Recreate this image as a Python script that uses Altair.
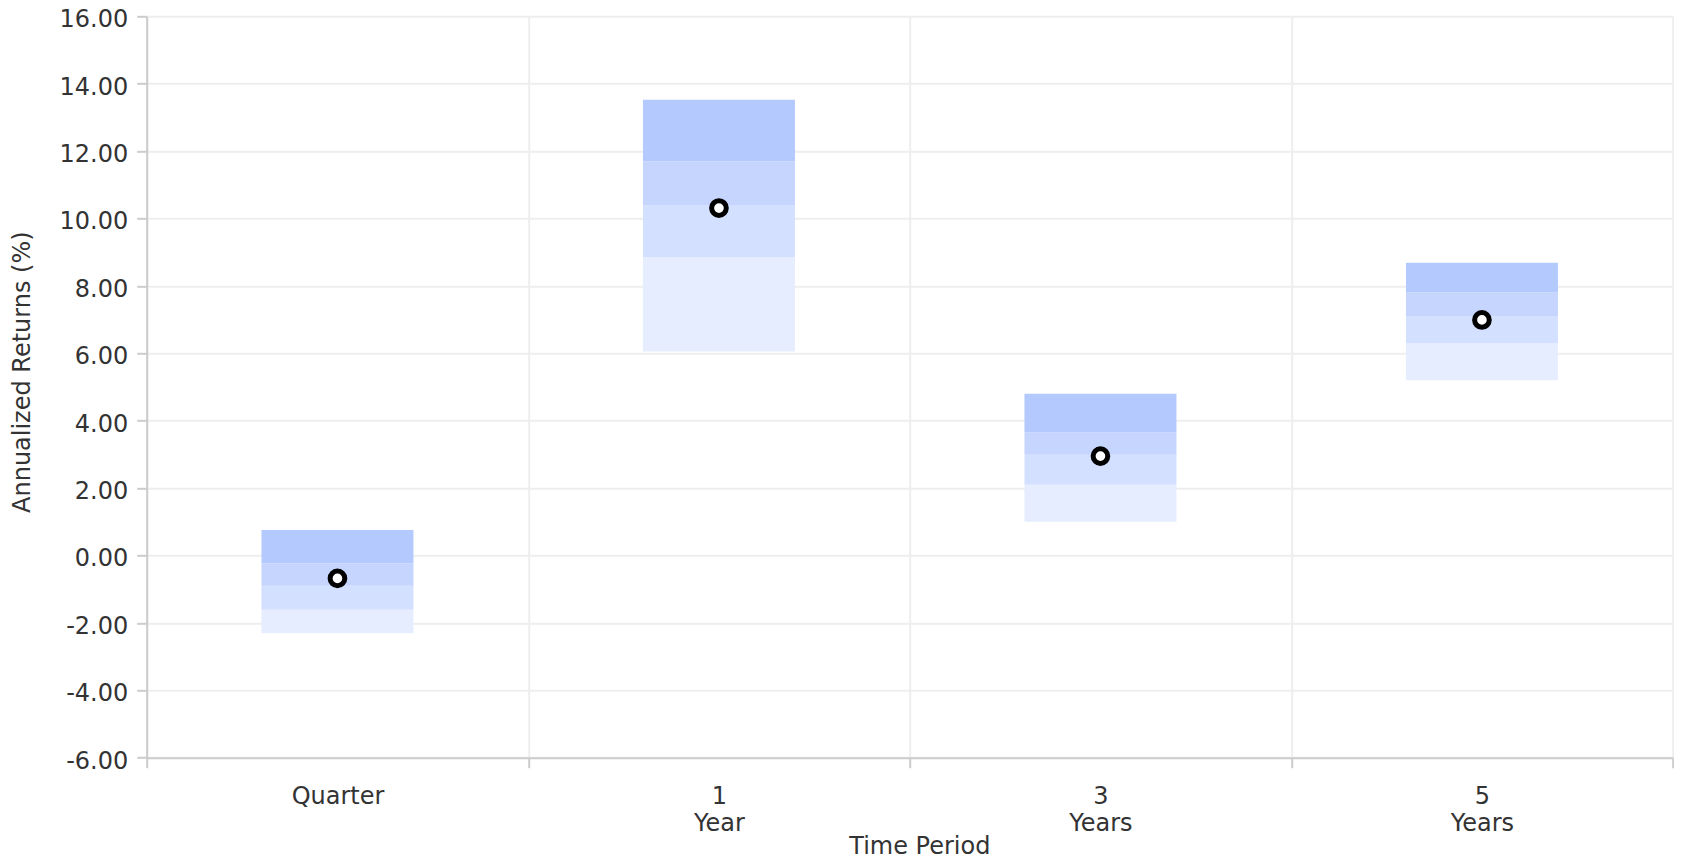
import altair as alt
import pandas as pd

# ---- data ----
periods = ["Quarter", "1\nYear", "3\nYears", "5\nYears"]
p95 = [0.76, 13.52, 4.80, 8.69]
p75 = [-0.24, 11.69, 3.66, 7.81]
p50 = [-0.90, 10.40, 2.99, 7.09]
p25 = [-1.61, 8.85, 2.10, 6.30]
p05 = [-2.31, 6.05, 1.00, 5.20]
fund = [-0.68, 10.31, 2.95, 6.99]

band_names = ["5th-25th", "25th-50th", "50th-75th", "75th-95th"]
band_colors = ["#e5edff", "#d4e0ff", "#c5d5fe", "#b4c9fe"]
y_ticks = [-6, -4, -2, 0, 2, 4, 6, 8, 10, 12, 14, 16]

rows = []
for i, p in enumerate(periods):
    edges = [p05[i], p25[i], p50[i], p75[i], p95[i]]
    for j in range(4):
        rows.append({"period": p, "band": band_names[j],
                     "low": edges[j], "high": edges[j + 1]})
bands = pd.DataFrame(rows)
points = pd.DataFrame({"period": periods, "value": fund})

FONT = "DejaVu Sans"
TXT = "#333333"
FS = 24

x_axis = alt.Axis(
    title="Time Period", labelAngle=0, tickBand="extent",
    labelExpr="split(datum.label, '\\n')",
    labelFont=FONT, labelFontSize=FS, labelColor=TXT, labelLineHeight=26.5,
    labelPadding=17, labelBaseline="top",
    tickSize=10, tickColor="#cccccc", tickWidth=2,
    domainColor="#cccccc", domainWidth=2,
    grid=True, gridColor="#eeeeee", gridWidth=2,
    titleFont=FONT, titleFontSize=FS, titleFontWeight="normal", titleColor=TXT,
    titleX=772.6, titleY=96, titleBaseline="alphabetic", titleAlign="center",
)
y_axis = alt.Axis(
    title="Annualized Returns (%)", values=y_ticks, format=".2f",
    labelExpr="replace(datum.label, '\u2212', '-')",
    labelFont=FONT, labelFontSize=FS, labelColor=TXT, labelPadding=9,
    labelOffset=3.4,
    tickSize=10, tickColor="#cccccc", tickWidth=2,
    domainColor="#cccccc", domainWidth=2,
    grid=True, gridColor="#eeeeee", gridWidth=2,
    titleFont=FONT, titleFontSize=FS, titleFontWeight="normal", titleColor=TXT,
    titleX=-124, titleY=355.4, titleAngle=270, titleAlign="center",
    titleBaseline="middle",
)
x_scale = alt.Scale(paddingInner=0, paddingOuter=0)
y_scale = alt.Scale(domain=[-6, 16], nice=False, zero=False)

bars = alt.Chart(bands).mark_bar(width=152, strokeWidth=0).encode(
    x=alt.X("period:N", sort=periods, scale=x_scale, axis=x_axis),
    y=alt.Y("low:Q", scale=y_scale, axis=y_axis),
    y2="high:Q",
    color=alt.Color("band:N", scale=alt.Scale(domain=band_names, range=band_colors),
                    legend=None),
)
dots = alt.Chart(points).mark_point(
    shape="circle", filled=True, fill="white", stroke="black",
    strokeWidth=5, size=215, opacity=1,
).encode(
    x=alt.X("period:N", sort=periods, scale=x_scale, axis=x_axis),
    y=alt.Y("value:Q", scale=y_scale, axis=y_axis),
)

chart = alt.layer(bars, dots).properties(
    width=1526, height=741.4,
    autosize=alt.AutoSizeParams(type="none"),
    padding={"left": 138.7, "top": 8.3, "right": 1.3, "bottom": 98},
).configure_view(strokeOpacity=0)

chart.save("out.html", embed_options={"renderer": "svg", "actions": False})
